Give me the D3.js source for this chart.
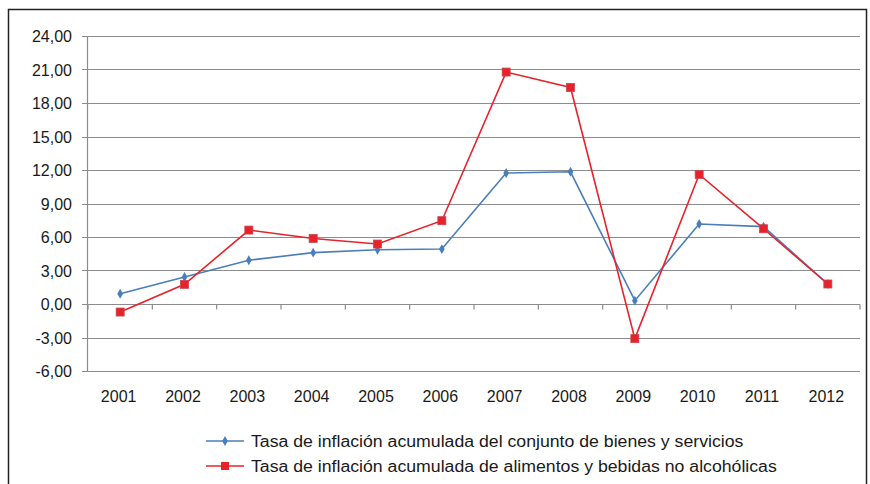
<!DOCTYPE html>
<html lang="es">
<head>
	<meta charset="UTF-8">
	<title>Tasa de inflación acumulada</title>
	<script src="https://cdn.jsdelivr.net/npm/d3@7"></script>
	<style>
		body { margin: 0; background: #fff; }
		text { font-family: "Liberation Sans", Arial, sans-serif; fill: #1a1a1a; }
	</style>
</head>
<body>
<script>
	// datos
	var years = ['2001', '2002', '2003', '2004', '2005', '2006', '2007', '2008', '2009', '2010', '2011', '2012'];
	var general = [0.92, 2.42, 3.92, 4.6, 4.86, 4.92, 11.73, 11.84, 0.3, 7.16, 6.93, 1.79];
	var alimentos = [-0.72, 1.76, 6.62, 5.87, 5.37, 7.46, 20.77, 19.39, -3.1, 11.6, 6.74, 1.79];
	var yTicks = [-6, -3, 0, 3, 6, 9, 12, 15, 18, 21, 24];
	var legendLabels = [
		'Tasa de inflación acumulada del conjunto de bienes y servicios',
		'Tasa de inflación acumulada de alimentos y bebidas no alcohólicas'
	];

	var W = 870, H = 484;
	var margin = {top: 36, left: 88, bottom: 484 - 371, right: 870 - 860};
	var width = W - margin.left - margin.right;
	var height = H - margin.top - margin.bottom;

	var svg = d3.select('body').append('svg')
		.attr('width', W)
		.attr('height', H);

	// marco exterior
	svg.append('rect')
		.attr('x', 8.5).attr('y', 9.5)
		.attr('width', 858).attr('height', 490)
		.attr('fill', 'none')
		.attr('stroke', '#222')
		.attr('stroke-width', 1.5);

	var g = svg.append('g')
		.attr('transform', 'translate(' + margin.left + ',' + margin.top + ')');

	var x = d3.scaleBand().domain(years).range([0, width]);
	var y = d3.scaleLinear().domain([-6, 24]).range([height, 0]);

	// rejilla horizontal
	g.selectAll('.grid')
		.data(yTicks)
		.enter().append('line')
		.attr('x1', -6).attr('x2', width)
		.attr('y1', function (d) { return Math.round(y(d)) + 0.5; })
		.attr('y2', function (d) { return Math.round(y(d)) + 0.5; })
		.attr('stroke', '#8c8c8c')
		.attr('stroke-width', 1.2);

	// eje y
	var yAxis = g.append('g')
		.call(d3.axisLeft(y).tickValues(yTicks).tickSize(0).tickPadding(16)
			.tickFormat(function (d) { return d.toFixed(2).replace('.', ','); }));
	yAxis.select('.domain').remove();
	yAxis.selectAll('text').style('font-size', '16px').attr('dy', '0.35em');
	g.append('line')
		.attr('x1', -0.5).attr('x2', -0.5)
		.attr('y1', 0).attr('y2', height)
		.attr('stroke', '#8c8c8c').attr('stroke-width', 1.2);

	// eje x en el cero
	var x0 = Math.round(y(0)) + 0.5;
	g.selectAll('.xtick')
		.data(years.concat(['end']))
		.enter().append('line')
		.attr('x1', function (d, i) { return i * x.bandwidth(); })
		.attr('x2', function (d, i) { return i * x.bandwidth(); })
		.attr('y1', x0).attr('y2', x0 + 5)
		.attr('stroke', '#8c8c8c').attr('stroke-width', 1.2);

	g.selectAll('.xlabel')
		.data(years)
		.enter().append('text')
		.attr('x', function (d) { return x(d) + x.bandwidth() / 2 - 1.5; })
		.attr('y', height + 31)
		.attr('text-anchor', 'middle')
		.style('font-size', '16px')
		.text(function (d) { return d; });

	var line = d3.line()
		.x(function (d, i) { return x(years[i]) + x.bandwidth() / 2; })
		.y(function (d) { return y(d); });

	var blue = '#4a7ebb', red = '#e8212b';

	g.append('path').datum(general)
		.attr('d', line).attr('fill', 'none')
		.attr('stroke', blue).attr('stroke-width', 1.6);
	g.append('path').datum(alimentos)
		.attr('d', line).attr('fill', 'none')
		.attr('stroke', red).attr('stroke-width', 1.6);

	var diamond = d3.symbol().type(d3.symbolDiamond).size(28);
	g.selectAll('.dBlue')
		.data(general)
		.enter().append('path')
		.attr('d', diamond)
		.attr('transform', function (d, i) {
			return 'translate(' + (x(years[i]) + x.bandwidth() / 2) + ',' + y(d) + ')';
		})
		.attr('fill', blue);

	g.selectAll('.sRed')
		.data(alimentos)
		.enter().append('rect')
		.attr('x', function (d, i) { return x(years[i]) + x.bandwidth() / 2 - 4; })
		.attr('y', function (d) { return y(d) - 4; })
		.attr('width', 8).attr('height', 8)
		.attr('fill', red)
		.attr('stroke', '#c9464d').attr('stroke-width', 0.8);

	// leyenda
	var legend = svg.selectAll('.legend')
		.data(legendLabels)
		.enter().append('g')
		.attr('transform', function (d, i) { return 'translate(206,' + (441 + i * 25) + ')'; });
	legend.append('line')
		.attr('x1', 0).attr('x2', 38)
		.attr('stroke', function (d, i) { return i === 0 ? blue : red; })
		.attr('stroke-width', 1.6);
	legend.each(function (d, i) {
		var s = d3.select(this);
		if (i === 0) {
			s.append('path').attr('d', diamond).attr('transform', 'translate(19,0)').attr('fill', blue);
		} else {
			s.append('rect').attr('x', 15).attr('y', -4).attr('width', 8).attr('height', 8).attr('fill', red);
		}
	});
	// el texto de la leyenda va algo ensanchado en el original
	legend.append('text')
		.attr('transform', 'translate(45,0) scale(1.105,1)')
		.attr('dy', '0.35em')
		.style('font-size', '16px')
		.text(function (d) { return d; });
</script>
</body>
</html>
